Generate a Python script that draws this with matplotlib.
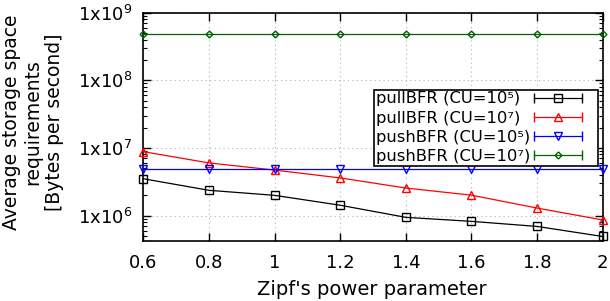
import matplotlib
matplotlib.use("Agg")
import matplotlib.pyplot as plt
from matplotlib.lines import Line2D
from matplotlib.legend_handler import HandlerBase
from matplotlib.ticker import LogLocator, FixedLocator, FuncFormatter, NullFormatter
import numpy as np

x = [0.6, 0.8, 1.0, 1.2, 1.4, 1.6, 1.8, 2.0]
pull_cu5 = [3.5e6, 2.36e6, 1.99e6, 1.42e6, 9.4e5, 8.2e5, 6.9e5, 4.9e5]
pull_cu7 = [8.8e6, 6.0e6, 4.7e6, 3.6e6, 2.55e6, 2.0e6, 1.29e6, 8.6e5]
push_cu5 = [4.8e6] * 8
push_cu7 = [4.8e8] * 8

labels = ["pullBFR (CU=10\u2075)", "pullBFR (CU=10\u2077)",
          "pushBFR (CU=10\u2075)", "pushBFR (CU=10\u2077)"]
xticks = [0.6, 0.8, 1, 1.2, 1.4, 1.6, 1.8, 2]
xticklabels = ["0.6", "0.8", "1", "1.2", "1.4", "1.6", "1.8", "2"]
yticks = [1e6, 1e7, 1e8, 1e9]

series = [pull_cu5, pull_cu7, push_cu5, push_cu7]
colors = ["black", "#ff0000", "#0000ff", "#006400"]
markers = ["s", "^", "v", "D"]
msizes = [5.5, 5.5, 5.5, 3.5]

plt.rcParams['font.family'] = ['DejaVu Sans']
plt.rcParams['mathtext.fontset'] = 'dejavusans'

fig = plt.figure(figsize=(6.1, 3.01), dpi=100)
L, R, T, B = 143.3, 602.7, 12.7, 241.0
ax = fig.add_axes([L/610, 1 - B/301, (R-L)/610, (B-T)/301])

handles = []
for s, c, m, ms, lab in zip(series, colors, markers, msizes, labels):
    ln, = ax.plot(x, s, color=c, lw=0.9, marker=m, ms=ms, mfc='none', mec=c, mew=1.0,
                  label=lab, clip_on=False, zorder=3)
    handles.append(ln)

ax.set_yscale('log')
ax.set_xlim(0.6, 2.0)
ax.set_ylim(4.2e5, 1e9)
ax.xaxis.set_major_locator(FixedLocator(xticks))
ax.set_xticklabels(xticklabels)
ax.yaxis.set_major_locator(FixedLocator(yticks))
ax.yaxis.set_major_formatter(FuncFormatter(lambda v, p: r"1x10$^{%d}$" % round(np.log10(v))))
ax.yaxis.set_minor_locator(LogLocator(base=10, subs=np.arange(2, 10)))
ax.yaxis.set_minor_formatter(NullFormatter())
ax.tick_params(axis='both', which='both', direction='in', top=True, right=True, labelsize=13)
ax.tick_params(axis='both', which='major', length=6, width=1)
ax.tick_params(axis='y', which='minor', length=3, width=0.8)
ax.tick_params(axis='x', which='major', pad=9)
ax.tick_params(axis='y', which='major', pad=8)
ax.grid(True, which='major', color='#b0b0b0', linestyle=(0, (1, 3)), lw=0.8)
for sp in ax.spines.values():
    sp.set_linewidth(1.2)

ax.set_xlabel("Zipf's power parameter", fontsize=14)
ax.xaxis.set_label_coords(0.497, (B - 299) / (B - T))
ax.xaxis.label.set_va('bottom')
ax.set_ylabel("Average storage space\nrequirements\n[Bytes per second]", fontsize=13.5,
              linespacing=1.15)
ax.yaxis.set_label_coords((64 - L) / (R - L), (B - 122.5) / (B - T))

FS = 11.8
FSPX = FS * 100 / 72
HL_PX = 48
BP = 0.1


class CapHandler(HandlerBase):
    def create_artists(self, legend, orig_handle, xdescent, ydescent, width, height, fontsize, trans):
        y = height / 2 - ydescent
        x0 = -xdescent
        x1 = x0 + HL_PX * 72 / 100
        c = orig_handle.get_color()
        line = Line2D([x0, x1], [y, y], color=c, lw=0.9, transform=trans)
        caps = Line2D([x0, x1], [y, y], color=c, ls='none', marker='|', ms=7, mew=1.0, transform=trans)
        mk = Line2D([(x0 + x1) / 2], [y], ls='none', marker=orig_handle.get_marker(),
                    ms=orig_handle.get_markersize(), mfc='none', mec=c, mew=1.0, transform=trans)
        return [line, caps, mk]


leg = ax.legend(handles=handles, labels=labels, handler_map={Line2D: CapHandler()},
                loc='upper left', bbox_to_anchor=((374 - L) / (R - L), (B - 89.7) / (B - T)),
                markerfirst=False, fontsize=FS, frameon=True, fancybox=False, framealpha=1,
                edgecolor='black', borderpad=BP, labelspacing=0.26, handlelength=62 / FSPX,
                handletextpad=0.3, borderaxespad=0)
leg.get_frame().set_linewidth(1.2)
leg.set_zorder(5)
row_w = 598 - 374 - 2 * BP * FSPX
for col in leg._legend_handle_box.get_children():
    col.align = 'left'
    col.width = row_w
    for row in col.get_children():
        row.mode = 'expand'

fig.savefig("out.png", dpi=100)
